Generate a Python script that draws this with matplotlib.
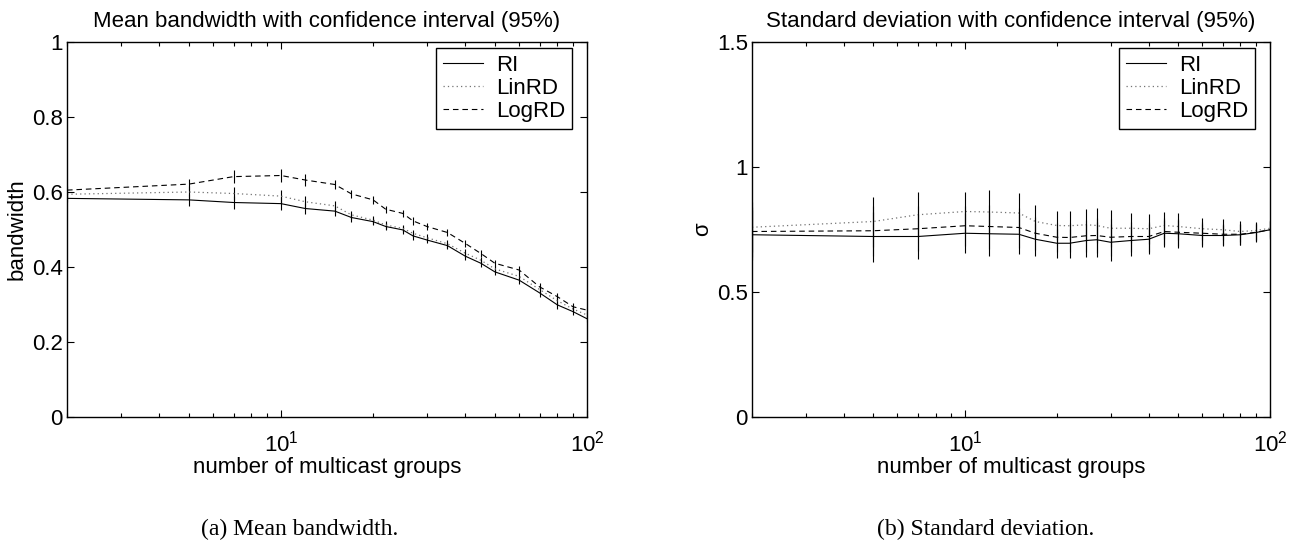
import numpy as np
import matplotlib
matplotlib.use('Agg')
import matplotlib.pyplot as plt
from matplotlib.ticker import LogLocator, NullFormatter, FixedLocator

plt.rcParams['font.family'] = ['Liberation Sans', 'DejaVu Sans']
plt.rcParams['mathtext.fontset'] = 'custom'
plt.rcParams['mathtext.rm'] = 'Liberation Sans'

# number of multicast groups
groups = [2, 5, 7, 10, 12, 15, 17, 20, 22, 25, 27, 30, 35, 40, 45, 50, 60, 70, 80, 90, 100]

# mean bandwidth
bw_ri = [0.583, 0.579, 0.572, 0.569, 0.556, 0.549, 0.532, 0.521, 0.508, 0.499, 0.483,
         0.472, 0.457, 0.429, 0.410, 0.387, 0.365, 0.331, 0.299, 0.281, 0.262]
bw_lin = [0.594, 0.600, 0.596, 0.589, 0.574, 0.563, 0.539, 0.525, 0.512, 0.503, 0.490,
          0.478, 0.462, 0.437, 0.418, 0.395, 0.375, 0.340, 0.310, 0.288, 0.272]
bw_log = [0.605, 0.621, 0.641, 0.644, 0.632, 0.620, 0.595, 0.579, 0.554, 0.543, 0.523,
          0.508, 0.492, 0.463, 0.436, 0.410, 0.392, 0.347, 0.321, 0.294, 0.285]
bw_err = [0.010, 0.015, 0.017, 0.017, 0.015, 0.013, 0.011, 0.010, 0.010, 0.010, 0.010,
          0.009, 0.010, 0.010, 0.009, 0.009, 0.010, 0.010, 0.010, 0.009, 0.009]

# standard deviation
sd_ri = [0.729, 0.722, 0.722, 0.735, 0.733, 0.731, 0.711, 0.695, 0.695, 0.706, 0.709,
         0.699, 0.706, 0.711, 0.735, 0.733, 0.726, 0.726, 0.729, 0.738, 0.749]
sd_lin = [0.759, 0.782, 0.809, 0.822, 0.820, 0.816, 0.782, 0.766, 0.765, 0.769, 0.766,
          0.755, 0.755, 0.753, 0.766, 0.762, 0.753, 0.749, 0.742, 0.746, 0.755]
sd_log = [0.742, 0.745, 0.753, 0.765, 0.762, 0.758, 0.735, 0.719, 0.718, 0.725, 0.726,
          0.719, 0.722, 0.722, 0.742, 0.739, 0.735, 0.731, 0.731, 0.739, 0.749]
sd_err = [0.100, 0.100, 0.090, 0.080, 0.088, 0.080, 0.065, 0.058, 0.058, 0.065, 0.070,
          0.075, 0.060, 0.060, 0.055, 0.055, 0.045, 0.042, 0.042, 0.036, 0.035]

W, H = 1294, 542
fig = plt.figure(figsize=(W / 100, H / 100), dpi=100)

def px_axes(x0, x1, y0, y1):
    return fig.add_axes([x0 / W, 1 - y1 / H, (x1 - x0) / W, (y1 - y0) / H])

ax1 = px_axes(67, 587, 42, 417)
ax2 = px_axes(752, 1270, 42, 417)

styles = [('RI', '-', 'k', 0.8), ('LinRD', (0, (1, 2.5)), '0.45', 0.9), ('LogRD', (0, (5, 3.5)), 'k', 0.8)]
FS = 16

def draw(ax, series, err, ylim, yticks, ylabel, title):
    handles = []
    for (name, ls, col, lw), ys in zip(styles, series):
        ax.errorbar(groups, ys, yerr=err, fmt='none', ecolor='k', elinewidth=0.8, capsize=0)
        h, = ax.plot(groups, ys, linestyle=ls, color=col, lw=lw, label=name)
        handles.append(h)
    ax.set_xscale('log')
    ax.set_xlim(2, 100)
    ax.set_ylim(*ylim)
    ax.yaxis.set_major_locator(FixedLocator(yticks))
    ax.set_yticklabels(['%g' % t for t in yticks])
    ax.xaxis.set_major_locator(FixedLocator([10, 100]))
    ax.xaxis.set_minor_locator(LogLocator(base=10, subs=np.arange(2, 10)))
    ax.xaxis.set_minor_formatter(NullFormatter())
    ax.set_xticklabels([r'$10^1$', r'$10^2$'])
    ax.tick_params(which='both', direction='in', top=True, right=True, labelsize=FS)
    ax.tick_params(axis='x', pad=10)
    ax.tick_params(axis='y', pad=3)
    ax.tick_params(which='major', length=5, width=0.8)
    ax.tick_params(which='minor', length=3, width=0.8)
    for s in ax.spines.values():
        s.set_linewidth(1.0)
    ax.set_xlabel('number of multicast groups', fontsize=FS, labelpad=0)
    ax.set_ylabel(ylabel, fontsize=FS, labelpad=3)
    ax.set_title(title, fontsize=FS, pad=11)
    leg = ax.legend(handles=handles, loc='upper right', fontsize=FS, fancybox=False,
                    bbox_to_anchor=(1 - 15 / 520, 1 - 6 / 375), borderaxespad=0,
                    edgecolor='k', framealpha=1, handlelength=1.8,
                    handletextpad=0.6, borderpad=0.3, labelspacing=0.1)
    leg.get_frame().set_linewidth(1.0)

draw(ax1, [bw_ri, bw_lin, bw_log], bw_err, (0, 1), [0, 0.2, 0.4, 0.6, 0.8, 1],
     'bandwidth', 'Mean bandwidth with confidence interval (95%)')
draw(ax2, [sd_ri, sd_lin, sd_log], sd_err, (0, 1.5), [0, 0.5, 1, 1.5],
     'σ', 'Standard deviation with confidence interval (95%)')

fig.text(300 / W, 1 - 529 / H, '(a) Mean bandwidth.', ha='center', va='center',
         fontsize=17, family='Liberation Serif')
fig.text(986 / W, 1 - 529 / H, '(b) Standard deviation.', ha='center', va='center',
         fontsize=17, family='Liberation Serif')

fig.savefig('out.png', dpi=100)
